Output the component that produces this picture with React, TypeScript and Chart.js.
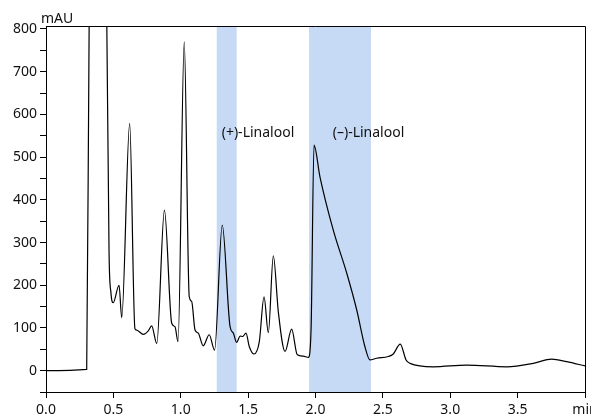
import { useEffect, useRef } from "react";
import { Chart, registerables } from "chart.js";

Chart.register(...registerables);

// Retention time (min)
const times = [
  0, 0.302, 0.321, 0.385, 0.45, 0.468, 0.482, 0.499, 0.542, 0.562, 0.621,
  0.66, 0.673, 0.722, 0.759, 0.784, 0.822, 0.879, 0.933, 0.957, 0.98, 1.026,
  1.063, 1.081, 1.106, 1.13, 1.167, 1.211, 1.251, 1.308, 1.366, 1.39, 1.415,
  1.44, 1.46, 1.484, 1.509, 1.544, 1.583, 1.618, 1.65, 1.687, 1.724, 1.774,
  1.823, 1.865, 1.909, 1.947, 1.967, 1.989, 2.033, 2.132, 2.232, 2.306, 2.367,
  2.404, 2.454, 2.54, 2.577, 2.629, 2.672, 2.701, 2.874, 3.122, 3.419, 3.616,
  3.753, 3.864, 4.0,
];
// Absorbance (mAU)
const absorbance = [
  0, 3, 850, 1500, 850, 275, 182, 159, 200, 124, 579,
  98, 95, 85, 93, 105, 64, 376, 111, 103, 68, 770,
  173, 162, 95, 88, 58, 84, 48, 341, 103, 88, 66,
  81, 80, 88, 56, 39, 68, 173, 89, 269, 138, 45,
  97, 37, 34, 31, 95, 528, 454, 329, 228, 142, 56,
  25, 29, 33, 39, 62, 25, 17, 9, 13, 9, 17,
  27, 21, 11,
];

// Highlighted elution windows (min)
const bandStart = [1.267, 1.952];
const bandEnd = [1.415, 2.412];

// Peak annotations
const peakLabels = ["(+)-Linalool", "(–)-Linalool"];
const labelTimes = [1.304, 2.128];
const labelLevels = [556, 556];

const yUnit = "mAU";
const xUnit = "min";

const FONT = '"Noto Sans", "Open Sans", sans-serif';

const decorPlugin = {
  id: "decor",
  beforeDatasetsDraw(chart: any) {
    const { ctx, chartArea, scales } = chart;
    const x = scales.x;
    ctx.save();
    ctx.fillStyle = "rgb(198, 218, 245)";
    for (let i = 0; i < bandStart.length; i++) {
      const x0 = x.getPixelForValue(bandStart[i]);
      const x1 = x.getPixelForValue(bandEnd[i]);
      ctx.fillRect(x0, chartArea.top, x1 - x0, chartArea.bottom - chartArea.top);
    }
    ctx.restore();
  },
  afterDraw(chart: any) {
    const { ctx, chartArea, scales } = chart;
    const x = scales.x;
    const y = scales.y;
    ctx.save();
    // box top & right
    ctx.strokeStyle = "#000";
    ctx.lineWidth = 1;
    ctx.beginPath();
    ctx.moveTo(chartArea.left, chartArea.top + 0.5);
    ctx.lineTo(chartArea.right + 0.5, chartArea.top + 0.5);
    ctx.lineTo(chartArea.right + 0.5, chartArea.bottom);
    ctx.stroke();
    // annotations
    ctx.fillStyle = "#111";
    ctx.font = `14px ${FONT}`;
    ctx.textAlign = "left";
    ctx.textBaseline = "middle";
    for (let i = 0; i < peakLabels.length; i++) {
      ctx.fillText(peakLabels[i], x.getPixelForValue(labelTimes[i]), y.getPixelForValue(labelLevels[i]));
    }
    // y unit
    ctx.fillText(yUnit, chartArea.left - 5, chartArea.top - 7);
    ctx.restore();
  },
};

export default function App() {
  const ref = useRef<HTMLCanvasElement | null>(null);
  useEffect(() => {
    document.body.style.margin = "0";
    const canvas = ref.current!;
    const data = times.map((t, i) => ({ x: t, y: absorbance[i] }));
    const chart = new Chart(canvas, {
      type: "line",
      data: {
        datasets: [
          {
            data,
            borderColor: "#000",
            borderWidth: 1.2,
            pointRadius: 0,
            cubicInterpolationMode: "monotone",
            fill: false,
          },
        ],
      },
      options: {
        responsive: false,
        animation: false,
        layout: { padding: { top: 26, right: 6, left: 0, bottom: 0 } },
        plugins: { legend: { display: false }, tooltip: { enabled: false } },
        scales: {
          x: {
            type: "linear",
            min: 0,
            max: 4,
            afterFit(scale: any) {
              scale.height = 26;
              scale.paddingLeft = 0;
              scale.paddingRight = 0;
            },
            ticks: {
              stepSize: 0.5,
              autoSkip: false,
              maxRotation: 0,
              padding: 4,
              color: "#111",
              font: { family: FONT, size: 14 },
              callback: (v: any) => (Math.abs(v - 4) < 1e-9 ? xUnit : Number(v).toFixed(1)),
            },
            grid: {
              display: true,
              drawOnChartArea: false,
              drawTicks: true,
              tickLength: 6,
              tickColor: "#000",
            },
            border: { display: true, color: "#000", width: 1 },
          },
          y: {
            min: -50,
            max: 807,
            afterFit(scale: any) {
              scale.width = 46;
            },
            ticks: {
              stepSize: 50,
              includeBounds: false,
              autoSkip: false,
              padding: 3,
              color: "#111",
              font: { family: FONT, size: 14 },
              callback: (v: any) => (Math.round(v) % 100 === 0 ? String(Math.round(v)) : ""),
            },
            grid: {
              display: true,
              drawOnChartArea: false,
              drawTicks: true,
              tickLength: 6,
              tickColor: "#000",
            },
            border: { display: true, color: "#000", width: 1 },
          },
        },
      },
      plugins: [decorPlugin],
    });
    return () => chart.destroy();
  }, []);
  return (
    <div style={{ width: 591, height: 418 }}>
      <canvas ref={ref} width={591} height={418} />
    </div>
  );
}
